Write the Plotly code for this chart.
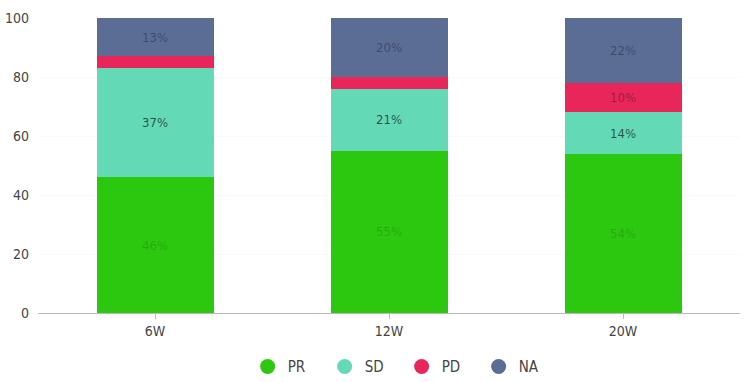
import plotly.graph_objects as go

categories = ["6W", "12W", "20W"]
series_names = ["PR", "SD", "PD", "NA"]
pr = [46, 55, 54]
sd = [37, 21, 14]
pd_ = [4, 4, 10]
na = [13, 20, 22]
labels_pr = ["46%", "55%", "54%"]
labels_sd = ["37%", "21%", "14%"]
labels_pd = ["", "", "10%"]
labels_na = ["13%", "20%", "22%"]
yticks = [0, 20, 40, 60, 80, 100]

colors = ["#2cc70f", "#64d9b5", "#e8265a", "#5b6d95"]
text_colors = ["rgba(20,60,20,0.22)", "rgba(20,40,40,0.75)", "rgba(60,20,30,0.45)", "rgba(25,30,50,0.45)"]
values = [pr, sd, pd_, na]
texts = [labels_pr, labels_sd, labels_pd, labels_na]
FONT = "DejaVu Sans Condensed, Roboto, sans-serif"

fig = go.Figure()
for name, v, t, c, tc in zip(series_names, values, texts, colors, text_colors):
    fig.add_trace(go.Bar(
        x=categories, y=v, name=name, marker=dict(color=c, line=dict(width=0)),
        text=t, textposition="inside", insidetextanchor="middle",
        textfont=dict(color=tc, size=13, family=FONT),
        showlegend=False, hoverinfo="skip",
    ))
    fig.add_trace(go.Scatter(
        x=[None], y=[None], mode="markers", name=name,
        marker=dict(color=c, size=15, symbol="circle"),
    ))

fig.update_layout(
    barmode="stack", bargap=0.5,
    width=745, height=382,
    margin=dict(l=38, r=5, t=18, b=69),
    plot_bgcolor="white", paper_bgcolor="white",
    font=dict(family=FONT, size=14, color="#444"),
    legend=dict(orientation="h", traceorder="normal", x=0.518, xanchor="center",
                xref="paper", yref="container", y=0.04, yanchor="middle",
                font=dict(size=15, color="#444"), itemwidth=30,
                entrywidth=32, entrywidthmode="pixels"),
    xaxis=dict(showgrid=True, gridcolor="rgba(0,0,0,0.02)", showline=True, linecolor="#bbb",
               ticks="outside", ticklen=5, tickcolor="#bbb", tickfont=dict(size=14, color="#444"),
               automargin=False),
    yaxis=dict(range=[0, 100], tickvals=yticks, showgrid=True, gridcolor="rgba(0,0,0,0.02)",
               zeroline=False, tickfont=dict(size=14, color="#444"), ticklabelstandoff=8,
               automargin=False),
)
fig.write_html("out.html", config={"displayModeBar": False})
with open("out.html", "r", encoding="utf-8") as f:
    html = f.read()
html = html.replace("<head>", "<head><style>html,body{margin:0;padding:0;}</style>", 1)
with open("out.html", "w", encoding="utf-8") as f:
    f.write(html)
